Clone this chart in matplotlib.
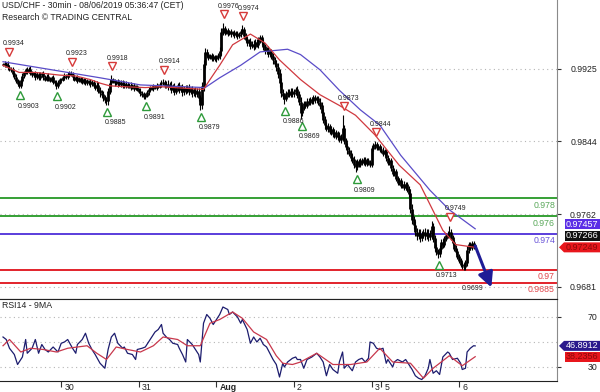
import numpy as np
import matplotlib
matplotlib.use('Agg')
import matplotlib.pyplot as plt
import matplotlib.transforms as mtransforms
from matplotlib.patches import Polygon

plt.rcParams['font.family'] = ['Liberation Sans', 'DejaVu Sans']

# 30-min closes, one list per trading day
jul29 = [0.9930, 0.9931, 0.9929, 0.9927, 0.9925, 0.9924, 0.9920, 0.9916, 0.9912, 0.9908,
         0.9906, 0.9912, 0.9917, 0.9921, 0.9924, 0.9922, 0.9925, 0.9921, 0.9918, 0.9920,
         0.9916, 0.9919, 0.9915, 0.9918, 0.9920, 0.9916, 0.9913, 0.9917, 0.9914, 0.9912,
         0.9915, 0.9911, 0.9909, 0.9906, 0.9910, 0.9913]
jul30 = [0.9913, 0.9915, 0.9917, 0.9916, 0.9919, 0.9920, 0.9919, 0.9916, 0.9913, 0.9915,
         0.9912, 0.9914, 0.9911, 0.9913, 0.9910, 0.9912, 0.9909, 0.9911, 0.9908, 0.9910,
         0.9906, 0.9904, 0.9907, 0.9901, 0.9898, 0.9896, 0.9893, 0.9890, 0.9889, 0.9900,
         0.9909, 0.9913, 0.9911, 0.9909, 0.9911, 0.9908, 0.9910, 0.9907, 0.9909, 0.9906,
         0.9908, 0.9905, 0.9907, 0.9904, 0.9906, 0.9903, 0.9905, 0.9902]
jul31 = [0.9900, 0.9898, 0.9896, 0.9894, 0.9895, 0.9899, 0.9902, 0.9904, 0.9903, 0.9905,
         0.9904, 0.9906, 0.9905, 0.9908, 0.9909, 0.9910, 0.9906, 0.9908, 0.9905, 0.9907,
         0.9902, 0.9905, 0.9900, 0.9903, 0.9906, 0.9902, 0.9904, 0.9899, 0.9903, 0.9901,
         0.9904, 0.9900, 0.9902, 0.9898, 0.9901, 0.9897, 0.9900, 0.9893, 0.9885, 0.9905,
         0.9930, 0.9944, 0.9941, 0.9938, 0.9940, 0.9937, 0.9939, 0.9936]
aug1 = [0.9938, 0.9940, 0.9945, 0.9966, 0.9970, 0.9966, 0.9968, 0.9965, 0.9967, 0.9964,
        0.9966, 0.9963, 0.9965, 0.9962, 0.9964, 0.9967, 0.9969, 0.9962, 0.9958, 0.9954,
        0.9956, 0.9951, 0.9953, 0.9950, 0.9955, 0.9952, 0.9957, 0.9960, 0.9955, 0.9950,
        0.9945, 0.9947, 0.9942, 0.9944, 0.9939, 0.9935, 0.9931, 0.9927, 0.9920, 0.9910,
        0.9898, 0.9895, 0.9892, 0.9897, 0.9899, 0.9896, 0.9900, 0.9897]
aug2 = [0.9899, 0.9902, 0.9896, 0.9888, 0.9876, 0.9882, 0.9886, 0.9884, 0.9889, 0.9887,
        0.9891, 0.9889, 0.9893, 0.9890, 0.9892, 0.9888, 0.9884, 0.9876, 0.9868, 0.9862,
        0.9858, 0.9860, 0.9855, 0.9857, 0.9852, 0.9854, 0.9849, 0.9851, 0.9846, 0.9848,
        0.9858, 0.9845, 0.9838, 0.9834, 0.9830, 0.9826, 0.9823, 0.9818, 0.9815, 0.9821,
        0.9818, 0.9822, 0.9820, 0.9823, 0.9819, 0.9822, 0.9820, 0.9818]
aug3 = [0.9836, 0.9839, 0.9840, 0.9837, 0.9838, 0.9835]
aug5 = [0.9834, 0.9830, 0.9832, 0.9825, 0.9820, 0.9822, 0.9814, 0.9808, 0.9810, 0.9802,
        0.9798, 0.9800, 0.9794, 0.9796, 0.9792, 0.9795, 0.9790, 0.9785, 0.9768, 0.9756,
        0.9750, 0.9742, 0.9738, 0.9741, 0.9736, 0.9739, 0.9742, 0.9738, 0.9741, 0.9737,
        0.9740, 0.9748, 0.9735, 0.9725, 0.9720, 0.9718, 0.9724, 0.9730, 0.9728, 0.9735,
        0.9738, 0.9740, 0.9742, 0.9736, 0.9730, 0.9724, 0.9720, 0.9715]
aug6 = [0.9710, 0.9706, 0.9704, 0.9703, 0.9708, 0.9722, 0.9728, 0.9725, 0.9729, 0.9726, 0.97266]

# wick length of each bar beyond its body, in pips
wick29 = [2, 3, 2, 3, 2, 2, 3, 2, 3, 2, 3, 2, 3, 2, 2, 3, 2, 3, 2, 2,
          3, 2, 2, 3, 2, 3, 2, 2, 3, 2, 2, 3, 2, 3, 2, 2]
wick30 = [2, 2, 3, 2, 2, 3, 2, 3, 2, 2, 3, 2, 2, 3, 2, 3, 2, 2, 3, 2,
          3, 3, 4, 3, 4, 3, 4, 3, 3, 4, 3, 3, 2, 3, 2, 3, 2, 2, 3, 2,
          3, 2, 2, 3, 2, 3, 2, 2]
wick31 = [2, 3, 2, 3, 3, 2, 3, 2, 2, 3, 2, 3, 2, 2, 3, 2, 3, 3, 4, 3,
          4, 3, 4, 3, 3, 4, 3, 4, 3, 4, 3, 4, 3, 4, 3, 4, 3, 4, 3, 5,
          5, 4, 3, 3, 2, 3, 3, 2]
wick01 = [3, 3, 4, 5, 3, 3, 2, 3, 2, 3, 2, 3, 2, 3, 2, 3, 3, 3, 3, 3,
          3, 4, 3, 4, 3, 3, 4, 3, 3, 4, 3, 3, 4, 3, 3, 4, 3, 4, 5, 5,
          5, 4, 3, 3, 3, 3, 3, 3]
wick02 = [3, 3, 4, 4, 5, 4, 3, 3, 3, 3, 3, 3, 3, 3, 3, 3, 4, 4, 4, 4,
          3, 4, 3, 4, 3, 4, 3, 4, 3, 4, 3, 4, 3, 4, 3, 4, 3, 4, 5, 3,
          3, 3, 3, 3, 3, 3, 3, 3]
wick03 = [3, 3, 4, 3, 3, 3]
wick05 = [3, 3, 3, 3, 3, 3, 3, 3, 3, 3, 3, 3, 3, 3, 3, 3, 3, 4, 5, 5,
          4, 4, 5, 4, 5, 4, 4, 5, 4, 5, 4, 6, 4, 4, 4, 3, 4, 4, 4, 3,
          3, 3, 3, 3, 3, 3, 3, 3]
wick06 = [3, 3, 3, 3, 3, 4, 3, 3, 3, 3, 2]

# labelled swing highs / lows (bar index, price)
pivot_high_bars = [3, 42, 67, 99, 136, 148, 210, 230, 276]
pivot_high_vals = [0.9934, 0.9923, 0.9918, 0.9914, 0.9976, 0.9974, 0.9873, 0.9844, 0.9749]
pivot_low_bars = [10, 33, 64, 88, 122, 174, 184, 218, 269, 285]
pivot_low_vals = [0.9903, 0.9902, 0.9885, 0.9891, 0.9879, 0.9886, 0.9869, 0.9809, 0.9713, 0.9699]
pivot_low_marked = [True, True, True, True, True, True, True, True, True, False]

# moving averages on price (sampled along the curve)
fast_ma_bars = [0, 10, 20, 35, 45, 54, 60, 66, 75, 88, 97, 124, 128, 134, 142, 153, 162, 171,
                184, 196, 208, 218, 230, 245, 258, 272, 280, 292]
fast_ma_vals = [0.9929, 0.9921, 0.9921, 0.9918, 0.9917, 0.9913, 0.9909, 0.9906, 0.9905, 0.9904,
                0.9905, 0.9902, 0.9913, 0.9929, 0.9952, 0.9964, 0.9954, 0.9935, 0.9913, 0.9896,
                0.9884, 0.9873, 0.9851, 0.9817, 0.9795, 0.9744, 0.9728, 0.97249]
slow_ma_bars = [0, 60, 85, 125, 134, 147, 159, 176, 184, 196, 208, 221, 233, 246, 264, 276, 292]
slow_ma_vals = [0.9933, 0.9915, 0.9907, 0.9904, 0.9915, 0.9929, 0.9944, 0.9947, 0.9941, 0.9924,
                0.9901, 0.9879, 0.9862, 0.9828, 0.9789, 0.9767, 0.97457]

# support / resistance levels
levels = [0.978, 0.976, 0.974, 0.97, 0.9685]
level_labels = ['0.978', '0.976', '0.974', '0.97', '0.9685']
level_colors = ['#35a035', '#35a035', '#5a3ddc', '#e2232b', '#e2232b']
level_text_colors = ['#5aa85a', '#5aa85a', '#6a55d8', '#e0454b', '#e0454b']

# forecast arrow (bar, price)
forecast_bars = [292, 302]
forecast_vals = [0.97266, 0.9680]

# RSI(14) and its 9-period MA
rsi_bars = [0, 2, 4, 7, 9, 12, 14, 15, 18, 20, 22, 24, 26, 28, 31, 34, 36, 38, 40, 43,
            45, 46, 49, 51, 53, 55, 57, 60, 63, 65, 67, 69, 71, 74, 75, 77, 80, 82, 83, 86,
            88, 90, 92, 94, 96, 98, 99, 101, 103, 105, 108, 109, 111, 113, 114, 117, 119, 121, 122, 124,
            126, 128, 130, 132, 134, 136, 139, 140, 142, 145, 147, 148, 151, 153, 155, 157, 159, 161, 163, 165,
            167, 169, 171, 173, 174, 176, 179, 181, 182, 184, 186, 188, 191, 194, 196, 198, 200, 202, 204, 207,
            208, 210, 211, 213, 216, 218, 220, 222, 224, 226, 227, 229, 231, 233, 235, 237, 238, 241, 242, 244,
            247, 249, 250, 253, 255, 257, 259, 261, 263, 264, 266, 268, 270, 272, 275, 276, 278, 281, 283, 284,
            286, 287, 289, 291, 292]
rsi_vals = [54, 52, 45, 40, 32, 38, 52, 41, 45, 52, 41, 48, 44, 42, 46, 42, 49, 50, 52, 45,
            41, 48, 52, 57, 49, 44, 40, 33, 29, 44, 54, 57, 49, 45, 46, 41, 40, 36, 44, 45,
            46, 50, 54, 58, 60, 64, 57, 54, 52, 49, 48, 45, 40, 34, 52, 48, 44, 40, 34, 65,
            72, 69, 64, 68, 72, 78, 76, 72, 74, 70, 65, 68, 60, 49, 54, 50, 53, 48, 46, 41,
            36, 32, 22, 33, 30, 34, 37, 38, 36, 36, 29, 36, 38, 41, 38, 34, 23, 32, 28, 25,
            34, 42, 29, 32, 27, 34, 36, 37, 34, 37, 50, 49, 45, 44, 45, 33, 36, 30, 34, 36,
            34, 36, 34, 28, 23, 21, 20, 23, 29, 36, 25, 27, 24, 38, 42, 41, 36, 37, 33, 28,
            29, 42, 45, 47, 46.8912]
rsi_ma_bars = [0, 4, 11, 17, 25, 33, 40, 46, 52, 58, 64, 70, 77, 85, 93, 99, 108, 114, 122, 128,
               134, 142, 148, 155, 163, 169, 173, 179, 184, 194, 204, 215, 225, 233, 241, 252, 260, 266, 276, 284,
               292]
rsi_ma_vals = [47, 52, 42, 45, 44, 42, 45, 46, 47, 41, 36, 46, 44, 42, 47, 54, 52, 47, 47, 65,
               68, 74, 69, 58, 52, 39, 33, 32, 34, 41, 32, 32, 34, 45, 34, 33, 21, 29, 39, 31,
               38.2356]

day_bars = [36, 84, 132, 180, 228, 234, 282]
day_labels = ['30', '31', 'Aug', '2', '3', '5', '6']
price_ticks = [0.9925, 0.9844, 0.9762, 0.9681]
rsi_ticks = [30, 70]
rsi_grid = [30, 50, 70]

# ---------------------------------------------------------------------------
W, H = 600, 392
fig = plt.figure(figsize=(W / 100, H / 100), dpi=100)
fig.patch.set_facecolor('white')


def fpx(x, y):
    # pixel position (from top-left) -> figure fraction
    return x / W, 1 - y / H


ax = fig.add_axes([0, 1 - 299 / H, 557 / W, 299 / H])
rsi_ax = fig.add_axes([0, 1 - 381 / H, 557 / W, 82 / H], sharex=ax)

close = np.array(jul29 + jul30 + jul31 + aug1 + aug2 + aug3 + aug5 + aug6)
wick = np.array(wick29 + wick30 + wick31 + wick01 + wick02 + wick03 + wick05 + wick06) * 1e-4
bars = np.arange(len(close))
open_ = np.r_[close[0], close[:-1]]
body_lo = np.minimum(open_, close)
body_hi = np.maximum(open_, close)
high = body_hi + wick
low = body_lo - wick
high[pivot_high_bars] = pivot_high_vals
low[pivot_low_bars] = pivot_low_vals

ax.set_xlim(-1.86, 342.6)
ax.set_ylim(0.96670, 1.00022)

# levels
for lv, lab, c, tc in zip(levels, level_labels, level_colors, level_text_colors):
    ax.axhline(lv, color=c, lw=1.4, zorder=2)
    tr = mtransforms.blended_transform_factory(ax.transAxes, ax.transData) + \
        mtransforms.ScaledTranslation(-2 / 100, -7 / 100, fig.dpi_scale_trans)
    ax.text(1.0, lv, lab, transform=tr, ha='right', va='center', fontsize=6.3, color=tc, zorder=6)

# candles
ax.vlines(bars, low, high, color='black', lw=0.8, zorder=3)
ax.vlines(bars, body_lo - 0.00004, body_hi + 0.00004, color='black', lw=2.0, zorder=3)

# moving averages
ax.plot(slow_ma_bars, slow_ma_vals, color='#5a4cc8', lw=0.9, zorder=4)
ax.plot(fast_ma_bars, fast_ma_vals, color='#d0393f', lw=0.9, zorder=4)


def offset(dx, dy):
    return mtransforms.offset_copy(ax.transData, fig=fig, x=dx, y=dy, units='dots')


for b, v in zip(pivot_high_bars, pivot_high_vals):
    ax.plot(b, v, marker='v', ms=5.5, mfc='white', mec='#d63a3a', mew=1.0,
            transform=offset(1, 9), zorder=5)
    ax.text(b, v, f'{v:.4f}', transform=offset(6, 17), ha='center', va='center',
            fontsize=5.0, color='#222222', zorder=6)
for b, v, m in zip(pivot_low_bars, pivot_low_vals, pivot_low_marked):
    if m:
        ax.plot(b, v, marker='^', ms=5.5, mfc='white', mec='#2e9a3a', mew=1.0,
                transform=offset(1, -7), zorder=5)
    ax.text(b, v, f'{v:.4f}', transform=offset(9, -18), ha='center', va='center',
            fontsize=5.0, color='#222222', zorder=6)

# forecast arrow
ax.annotate('', xy=(forecast_bars[1], forecast_vals[1]), xytext=(forecast_bars[0], forecast_vals[0]),
            arrowprops=dict(arrowstyle='-|>,head_length=0.9,head_width=0.45', color='#1f1c96',
                            lw=2.2, shrinkA=0, shrinkB=0), zorder=7)

# main axes styling
ax.set_yticks(price_ticks)
ax.set_yticklabels([f'{t:.4f}' for t in price_ticks])
ax.yaxis.tick_right()
ax.tick_params(axis='y', right=True, left=False, length=3, width=0.8, color='#333333',
               pad=25.8, labelsize=6.3, labelcolor='#222222')
for lbl in ax.get_yticklabels():
    lbl.set_horizontalalignment('right')
ax.tick_params(axis='x', bottom=False, labelbottom=False)
ax.yaxis.grid(True, linestyle=(0, (1, 3)), color='#b5b5b5', lw=0.8)
ax.set_axisbelow(True)
for s in ['left', 'top']:
    ax.spines[s].set_visible(False)
ax.spines['right'].set_color('#8a8a8a')
ax.spines['bottom'].set_color('#222222')

# RSI panel
rsi_ax.plot(rsi_bars, rsi_vals, color='#1c1c6e', lw=0.9, zorder=3)
rsi_ax.plot(rsi_ma_bars, rsi_ma_vals, color='#c8384c', lw=0.9, zorder=4)
rsi_ax.set_ylim(18.8, 84.4)
for g in rsi_grid:
    rsi_ax.axhline(g, color='#b5b5b5', lw=0.8, linestyle=(0, (1, 3)), zorder=1)
rsi_ax.set_yticks(rsi_ticks)
rsi_ax.set_yticklabels([str(t) for t in rsi_ticks])
rsi_ax.yaxis.tick_right()
rsi_ax.tick_params(axis='y', right=True, left=False, length=3, width=0.8, color='#333333',
                   pad=25.8, labelsize=6.3, labelcolor='#222222')
for lbl in rsi_ax.get_yticklabels():
    lbl.set_horizontalalignment('right')
rsi_ax.set_xticks(day_bars)
rsi_ax.set_xticklabels([])
rsi_ax.tick_params(axis='x', bottom=True, length=4, width=0.8, color='#333333')
rsi_ax.spines['left'].set_visible(False)
rsi_ax.spines['right'].set_color('#8a8a8a')
rsi_ax.spines['top'].set_color('#222222')
rsi_ax.spines['bottom'].set_color('#222222')
rsi_ax.text(2 / 557, 1 - 6 / 82, 'RSI14 - 9MA', transform=rsi_ax.transAxes, ha='left', va='center',
            fontsize=6.3, color='#222222')

xl_tr = mtransforms.blended_transform_factory(rsi_ax.transData, rsi_ax.transAxes) + \
    mtransforms.ScaledTranslation(3 / 100, -6 / 100, fig.dpi_scale_trans)
for b, lab in zip(day_bars, day_labels):
    rsi_ax.text(b, 0, lab, transform=xl_tr, ha='left', va='center', fontsize=6.3,
                color='#222222', fontweight='bold' if lab == 'Aug' else 'normal')

# headers
fig.text(*fpx(2, 5), 'USD/CHF - 30min - 08/06/2019 05:36:47 (CET)', ha='left', va='center',
         fontsize=6.2, color='#222222')
fig.text(*fpx(2, 17), 'Research \u00a9 TRADING CENTRAL', ha='left', va='center',
         fontsize=6.2, color='#222222')

# value tags on the right edge
ident = mtransforms.IdentityTransform()


def tag(y, text, bg, fg, pointer):
    h = 10
    if pointer:
        pts = [(559, y), (564, y + h / 2), (600, y + h / 2), (600, y - h / 2), (564, y - h / 2)]
    else:
        pts = [(565, y + h / 2), (600, y + h / 2), (600, y - h / 2), (565, y - h / 2)]
    fig.patches.append(Polygon(pts, closed=True, transform=ident, fc=bg, ec='none', zorder=8))
    fig.text(566, y, text, transform=ident, ha='left', va='center', fontsize=6.5, color=fg, zorder=9)


fig.canvas.draw()
price_tags = sorted([(fast_ma_vals[-1], f'{fast_ma_vals[-1]:.5f}', '#e8161c', '#8a0a0a', True),
                     (close[-1], f'{close[-1]:.5f}', '#111111', 'white', False),
                     (slow_ma_vals[-1], f'{slow_ma_vals[-1]:.5f}', '#5b2ee6', 'white', False)],
                    key=lambda t: t[0])
prev = -1e9
for v, txt, bg, fg, ptr in price_tags:
    y = max(ax.transData.transform((0, v))[1], prev + 11.5)
    tag(y, txt, bg, fg, ptr)
    prev = y

y_rsi = rsi_ax.transData.transform((0, rsi_vals[-1]))[1]
y_ma = rsi_ax.transData.transform((0, rsi_ma_vals[-1]))[1]
tag(y_rsi, f'{rsi_vals[-1]:.4f}', '#2a1a8c', 'white', True)
tag(min(y_ma, y_rsi - 11), f'{rsi_ma_vals[-1]:.4f}', '#e8161c', '#8a0a0a', False)

fig.savefig('out.png', dpi=100, facecolor='white')
